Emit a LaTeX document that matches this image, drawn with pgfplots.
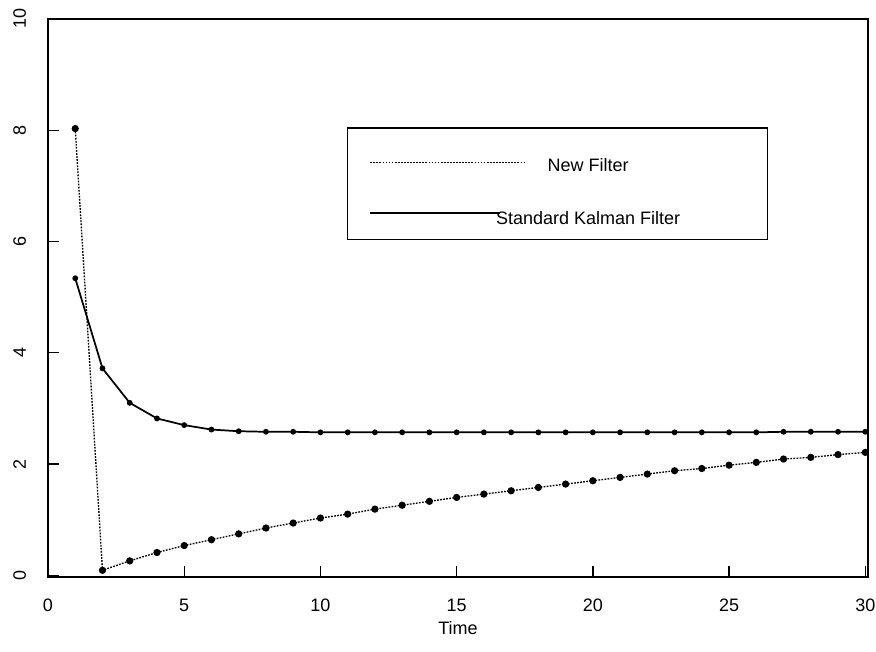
\documentclass[border=0pt]{standalone}
\usepackage{fontspec}
\setmainfont{Liberation Sans}
\usepackage{pgfplots}
\pgfplotsset{compat=1.18}
\begin{document}
\begin{tikzpicture}
\path[use as bounding box] (-36pt,-56.25pt) rectangle (621pt,432.75pt);
\begin{axis}[
  at={(0,0)}, anchor=south west,
  scale only axis, width=615pt, height=418.5pt,
  xmin=0, xmax=30.1, ymin=-0.03, ymax=10,
  xtick={0,5,10,15,20,25,30}, ytick={0,2,4,6,8,10},
  xtick pos=left, ytick pos=left,
  tick align=inside, major tick length=8pt,
  tick style={line width=1pt, black},
  axis line style={line width=1pt},
  /pgf/number format/assume math mode=true,
  tick label style={font=\fontsize{13.5}{16}\selectfont},
  xticklabel style={yshift=-13pt},
  yticklabel style={rotate=90, anchor=south},
  yticklabel shift=13pt,
  xlabel={Time}, xlabel style={font=\fontsize{13.5}{16}\selectfont, yshift=-0.5pt},
  clip=false,
]
\addplot[line width=1.3pt, black, mark=*, mark size=1.5pt, mark options={solid}] coordinates {
(1,5.34) (2,3.72) (3,3.10) (4,2.82) (5,2.70) (6,2.62) (7,2.59) (8,2.58) (9,2.58) (10,2.57)
(11,2.57) (12,2.57) (13,2.57) (14,2.57) (15,2.57) (16,2.57) (17,2.57) (18,2.57) (19,2.57) (20,2.57)
(21,2.57) (22,2.57) (23,2.57) (24,2.57) (25,2.57) (26,2.57) (27,2.58) (28,2.58) (29,2.58) (30,2.58)
};
\addplot[line width=1pt, black, dash pattern=on 1.3pt off 1pt, mark=*, mark size=2.2pt, mark options={solid}] coordinates {
(1,8.03) (2,0.09) (3,0.26) (4,0.41) (5,0.535) (6,0.64) (7,0.745) (8,0.85) (9,0.94) (10,1.03)
(11,1.10) (12,1.19) (13,1.26) (14,1.33) (15,1.40) (16,1.46) (17,1.52) (18,1.58) (19,1.64) (20,1.70)
(21,1.76) (22,1.82) (23,1.88) (24,1.92) (25,1.98) (26,2.03) (27,2.09) (28,2.12) (29,2.17) (30,2.21)
};
% legend
\draw[line width=1pt] (axis cs:11,6.04) rectangle (axis cs:26.4,8.04);
\draw[line width=1pt, dash pattern=on 1.3pt off 1pt] (axis cs:11.83,7.42) -- (axis cs:17.52,7.42);
\draw[line width=1.3pt] (axis cs:11.83,6.51) -- (axis cs:16.6,6.51);
\node[font=\fontsize{13.5}{16}\selectfont] at (axis cs:19.83,7.38) {New Filter};
\node[font=\fontsize{13.5}{16}\selectfont] at (axis cs:19.83,6.42) {Standard Kalman Filter};
\end{axis}
\end{tikzpicture}
\end{document}
